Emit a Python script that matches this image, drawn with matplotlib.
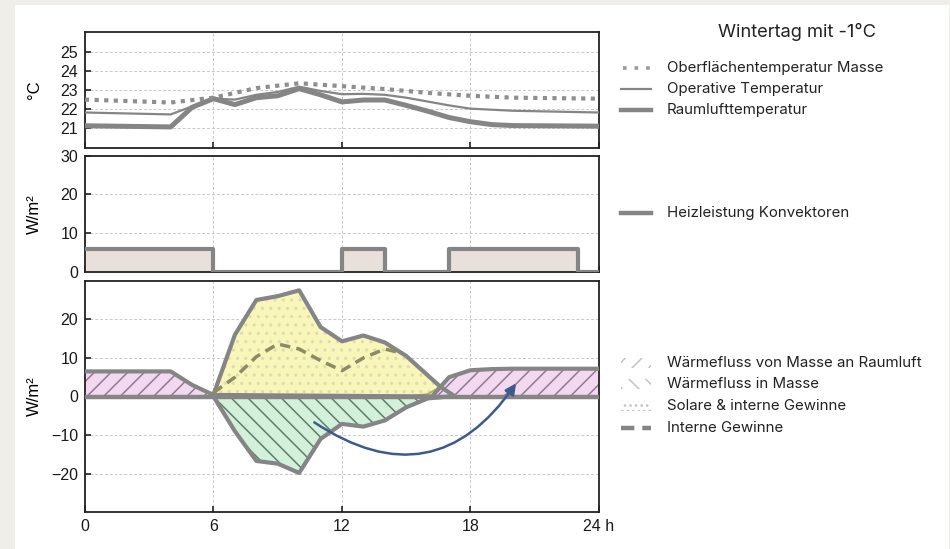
import matplotlib
matplotlib.use("Agg")
import matplotlib.pyplot as plt
from matplotlib.patches import Rectangle, FancyArrowPatch
import numpy as np

plt.rcParams['font.family'] = ['Liberation Sans', 'DejaVu Sans']
plt.rcParams['hatch.linewidth'] = 1.1

# --- temperatures (°C) ---
t_surf_h = [0, 4, 6, 8, 10, 12, 14, 16, 18, 20, 24]
t_surf = [22.5, 22.35, 22.6, 23.1, 23.35, 23.2, 23.05, 22.85, 22.7, 22.6, 22.55]

t_op_h = [0, 4, 5, 6, 7, 8, 9, 10, 11, 12, 13, 14, 15, 16, 17, 18, 20, 24]
t_op = [21.83, 21.73, 22.15, 22.55, 22.5, 22.75, 22.9, 23.17, 22.95, 22.78, 22.8,
        22.75, 22.6, 22.4, 22.2, 22.03, 21.92, 21.83]

t_air_h = [0, 4, 5, 6, 7, 8, 9, 10, 11, 12, 13, 14, 15, 16, 17, 18, 19, 20, 24]
t_air = [21.14, 21.08, 22.1, 22.55, 22.24, 22.6, 22.7, 23.07, 22.75, 22.38, 22.48,
         22.48, 22.2, 21.9, 21.57, 21.35, 21.2, 21.15, 21.12]

# --- heating convectors (W/m²) ---
heat_h = [0, 6, 12, 14, 17, 23, 24]
heat = [6, 0, 6, 0, 6, 0, 0]

# --- heat flows (W/m²) ---
mass_out_h = [0, 4, 5, 6, 16.2, 16.6, 17, 18, 19, 20, 24]
mass_out = [6.5, 6.5, 3.0, 0.4, 0.0, 2.5, 5.0, 6.8, 7.1, 7.2, 7.2]

gains_h = [6, 7, 8, 9, 10, 11, 12, 13, 14, 15, 16, 16.6, 17.2]
gains_top = [0.5, 16.0, 25.0, 26.0, 27.5, 18.0, 14.3, 15.8, 14.0, 10.5, 5.5, 2.5, 0.3]
gains_low = [0, 0, 0, 0, 0, 0, 0, 0, 0, 0, 0.6, 2.5, 0.3]

mass_in_h = [6, 7, 8, 9, 10, 11, 12, 13, 14, 15, 16, 17]
mass_in = [0, -9.0, -16.7, -17.4, -19.8, -11.0, -7.1, -7.8, -6.2, -2.8, -0.5, 0]

internal_h = [6, 7, 8, 9, 10, 11, 12, 13, 14, 14.6]
internal = [1.0, 5.0, 10.3, 13.6, 12.3, 9.3, 6.7, 10.0, 12.3, 11.5]

arrow_start = (10.6, -6.3)
arrow_end = (20.2, 4.0)

GRAY = '#858585'
W, H = 950, 549
fig = plt.figure(figsize=(9.5, 5.49), dpi=100, facecolor='#efeee9')
fig.patches.append(Rectangle((15 / W, 0), 934 / W, 544 / H, transform=fig.transFigure,
                             facecolor='white', edgecolor='none', zorder=-10))

left, width = 85 / W, 514 / W
ax1 = fig.add_axes([left, 1 - 147.7 / H, width, 115.4 / H])
ax2 = fig.add_axes([left, 1 - 272 / H, width, 116.3 / H])
ax3 = fig.add_axes([left, 1 - 512.3 / H, width, 231.6 / H])

for ax in (ax1, ax2, ax3):
    ax.set_facecolor('white')
    ax.set_xlim(0, 24)
    for s in ax.spines.values():
        s.set_linewidth(1.3)
        s.set_color('#222222')
    ax.tick_params(direction='in', length=4, width=1.2, labelsize=11.5, pad=5,
                   color='#222222', labelcolor='#1a1a1a')
    ax.grid(True, color='#c9c9c9', linestyle=(0, (3, 2)), linewidth=0.7)
    ax.set_axisbelow(True)
    ax.set_xticks([0, 6, 12, 18, 24])

for ax in (ax1, ax2):
    ax.tick_params(labelbottom=False)

# top: temperatures
ax1.set_ylim(20, 26)
ax1.set_yticks([21, 22, 23, 24, 25])
ax1.plot(t_op_h, t_op, color=GRAY, lw=1.6, zorder=3)
ax1.plot(t_air_h, t_air, color=GRAY, lw=3.6, zorder=3, solid_joinstyle='round')
ax1.plot(t_surf_h, t_surf, color='#8e8e8e', lw=3.0, linestyle=(0, (1, 1.3)), zorder=4)
ax1.set_ylabel('°C', fontsize=12)

# middle: heating
ax2.set_ylim(0, 30)
ax2.set_yticks([0, 10, 20, 30])
ax2.fill_between(heat_h, 0, heat, step='post', color='#e9e0dc', zorder=2)
ax2.step(heat_h, heat, where='post', color=GRAY, lw=3.0, zorder=3)
ax2.set_ylabel('W/m²', fontsize=12)

# bottom: heat flows
ax3.set_ylim(-30, 30)
ax3.set_yticks([-20, -10, 0, 10, 20])
ax3.set_xticklabels(['0', '6', '12', '18', '24 h'])
ax3.fill_between(mass_out_h, 0, mass_out, facecolor='#f3d9f0', edgecolor='#8f7b8f',
                 hatch='//', linewidth=0, zorder=2)
ax3.fill_between(gains_h, gains_low, gains_top, facecolor='#f8f6b8', edgecolor='#e0dbb0',
                 hatch='..', linewidth=0, zorder=2)
ax3.fill_between(mass_in_h, mass_in, 0, facecolor='#d3f0da', edgecolor='#5f7f68',
                 hatch='\\\\', linewidth=0, zorder=2)
ax3.plot(gains_h[9:], gains_low[9:], color='#b8b060', lw=1.5, zorder=3)
ax3.axhline(0, color=GRAY, lw=3.2, zorder=4)
ax3.plot(mass_out_h, mass_out, color=GRAY, lw=3.0, zorder=4, solid_joinstyle='round')
ax3.plot(gains_h, gains_top, color=GRAY, lw=3.0, zorder=4, solid_joinstyle='round')
ax3.plot(mass_in_h, mass_in, color=GRAY, lw=3.0, zorder=4, solid_joinstyle='round')
ax3.plot(internal_h, internal, color='#8c8c62', lw=2.5, linestyle=(0, (3, 1.8)), zorder=5)
ax3.add_patch(FancyArrowPatch(arrow_start, arrow_end, connectionstyle='arc3,rad=0.5',
                              arrowstyle='-|>', mutation_scale=16, color='#3d5a8c',
                              lw=1.8, zorder=6))
ax3.set_ylabel('W/m²', fontsize=12)

for ax in (ax1, ax2, ax3):
    ax.yaxis.set_label_coords(-0.084, 0.5)

# legend (drawn in pixel coordinates on an overlay)
lax = fig.add_axes([0, 0, 1, 1])
lax.axis('off')
lax.set_xlim(0, W)
lax.set_ylim(H, 0)
lfont = dict(family=['Inter', 'DejaVu Sans'], fontsize=10.8, va='center', ha='left', color='#222222')
lax.text(797, 32, 'Wintertag mit -1°C', family=['Inter', 'DejaVu Sans'], fontsize=13.2,
         ha='center', va='center', color='#222222')
hx0, hx1, tx = 621, 651, 667

lax.plot([hx0 + 2, hx1], [68, 68], color='#9a9a9a', lw=2.6, linestyle=(0, (1, 2.2)))
lax.text(tx, 68, 'Oberflächentemperatur Masse', **lfont)
lax.plot([hx0, hx1], [89, 89], color=GRAY, lw=1.6)
lax.text(tx, 89, 'Operative Temperatur', **lfont)
lax.plot([hx0, hx1], [110, 110], color=GRAY, lw=3.2)
lax.text(tx, 110, 'Raumlufttemperatur', **lfont)
lax.plot([hx0, hx1], [213, 213], color=GRAY, lw=3.2)
lax.text(tx, 213, 'Heizleistung Konvektoren', **lfont)

for y, hatch, label in [(363, '//', 'Wärmefluss von Masse an Raumluft'),
                        (384, '\\\\', 'Wärmefluss in Masse'),
                        (406, '...', 'Solare & interne Gewinne')]:
    lax.add_patch(Rectangle((hx0, y - 5), 30, 10, facecolor='white', edgecolor='#c4c4c4',
                            hatch=hatch, linewidth=0))
    lax.text(tx, y, label, **lfont)
lax.plot([hx0, hx1], [428, 428], color=GRAY, lw=3.2, linestyle=(0, (3, 1.8)))
lax.text(tx, 428, 'Interne Gewinne', **lfont)

fig.savefig('out.png', dpi=100, facecolor=fig.get_facecolor())
